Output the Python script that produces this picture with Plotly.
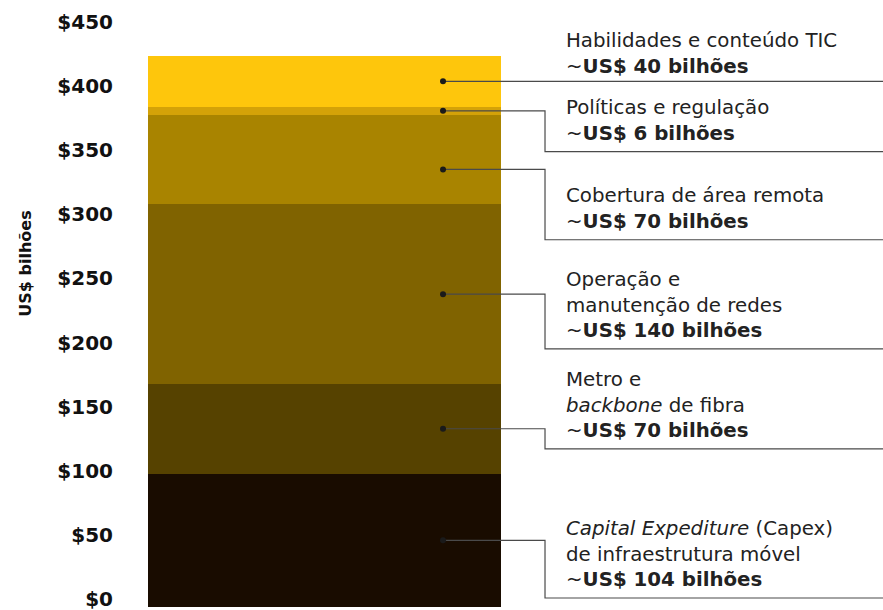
import plotly.graph_objects as go

# ---- data ----
segments = ["Capex", "Metro e backbone", "Operação e manutenção", "Cobertura remota",
            "Políticas e regulação", "Habilidades e conteúdo TIC"]
values = [104, 70, 140, 70, 6, 40]
colors = ["#190C00", "#564200", "#806300", "#A98400", "#D4A208", "#FEC60C"]
label_titles = [
    "<i>Capital Expediture</i> (Capex)<br>de infraestrutura móvel",
    "Metro e<br><i>backbone</i> de fibra",
    "Operação e<br>manutenção de redes",
    "Cobertura de área remota",
    "Políticas e regulação",
    "Habilidades e conteúdo TIC",
]
amount_text = ["~<b>US$ 104 bilhões</b>", "~<b>US$ 70 bilhões</b>", "~<b>US$ 140 bilhões</b>",
               "~<b>US$ 70 bilhões</b>", "~<b>US$ 6 bilhões</b>", "~<b>US$ 40 bilhões</b>"]
y_ticks = [0, 50, 100, 150, 200, 250, 300, 350, 400, 450]
y_tick_text = ["&#36;" + str(v) for v in y_ticks]

# ---- layout helpers (positions/styles) ----
anchor_frac = [0.5, 0.5, 0.5, 0.39, 0.5, 0.5]
label_line_y = [7.0, 123.3, 201.3, 286.4, 355.1, None]  # None -> straight line at dot
label_shift = [5, 5, 5, 5, 5, 1]
dot_x, elbow_x, text_x, end_x = 0.3357, 0.6246, 0.678, 1.582

fig = go.Figure()
base = 0
anchors = []
for name, v, c, f in zip(segments, values, colors, anchor_frac):
    fig.add_trace(go.Bar(x=[0], y=[v], width=1, name=name, marker=dict(color=c, line=dict(width=0)),
                         hoverinfo="skip", showlegend=False))
    anchors.append(base + v * f)
    base += v

FONT = "DejaVu Sans"
for a, ly, t, amt, sh in zip(anchors, label_line_y, label_titles, amount_text, label_shift):
    if ly is None:
        xs, ys = [dot_x, end_x], [a, a]
        ly = a
    else:
        xs, ys = [dot_x, elbow_x, elbow_x, end_x], [a, a, ly, ly]
    fig.add_trace(go.Scatter(x=xs, y=ys, mode="lines", line=dict(color="#4a4a4a", width=1.2),
                             hoverinfo="skip", showlegend=False, cliponaxis=False))
    fig.add_trace(go.Scatter(x=[dot_x], y=[a], mode="markers", marker=dict(color="#1a1a1a", size=6),
                             hoverinfo="skip", showlegend=False))
    fig.add_annotation(x=text_x, y=ly, xref="x", yref="y", text=t + "<br>" + amt, showarrow=False,
                       xanchor="left", yanchor="bottom", align="left", yshift=sh,
                       font=dict(family=FONT, size=19.8, color="#222222"))

fig.add_annotation(x=-0.139, y=268, xref="paper", yref="y", text="<b>US$ bilhões</b>", textangle=-90,
                   showarrow=False, font=dict(family=FONT, size=16, color="#111111"),
                   xanchor="center", yanchor="middle")

fig.update_layout(
    width=883, height=610, barmode="stack",
    margin=dict(l=130, r=0, t=30, b=3, autoexpand=False),
    paper_bgcolor="white", plot_bgcolor="white",
    xaxis=dict(range=[-0.551, end_x], visible=False, fixedrange=True, automargin=False),
    yaxis=dict(range=[0, 450], tickvals=y_ticks, ticktext=y_tick_text, showgrid=False, zeroline=False,
               showline=False, ticks="", ticklabelshift=-8, ticklabelstandoff=16,
               ticklabeloverflow="allow", automargin=False,
               tickfont=dict(family=FONT, size=20, color="#111111", weight="bold")),
    showlegend=False,
)

fig.write_html("out.html")
